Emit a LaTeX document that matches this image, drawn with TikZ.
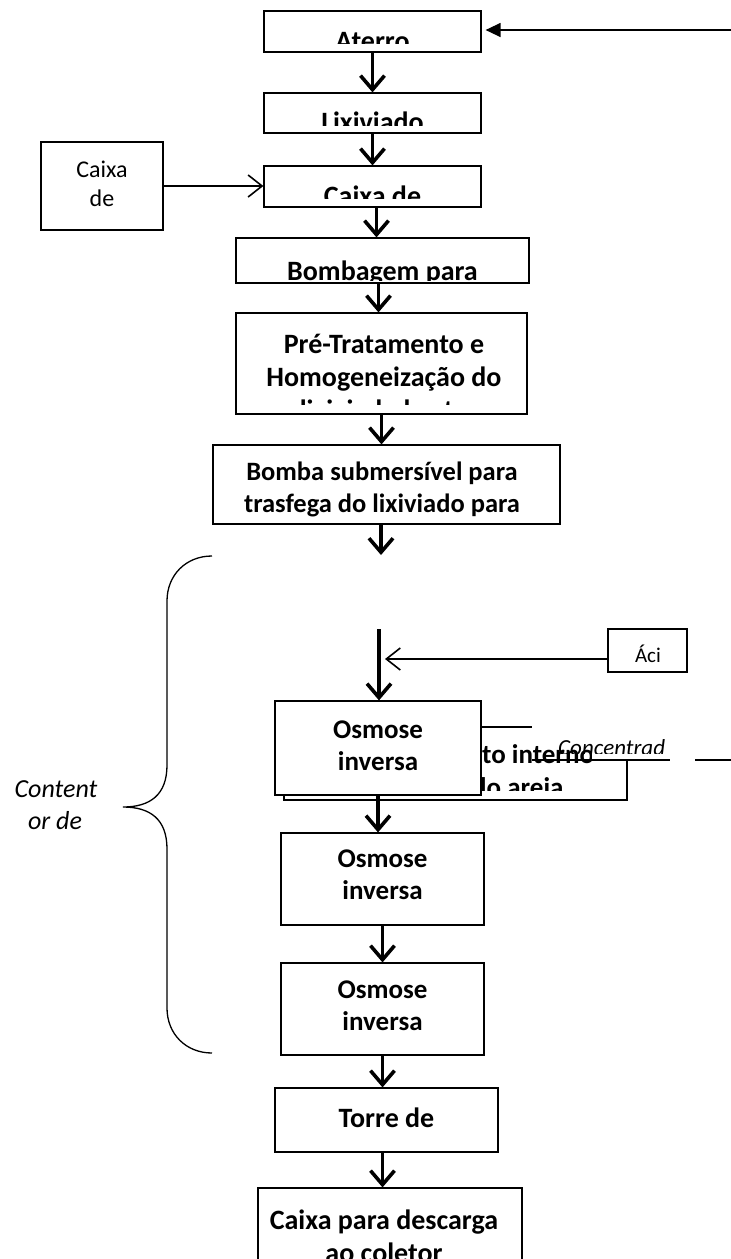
\documentclass[tikz,border=0pt]{standalone}
\usepackage{fontspec}
\setmainfont{Carlito}
\usetikzlibrary{arrows.meta}
\begin{document}
\begin{tikzpicture}[x=1pt,y=-1pt,
  box/.style={draw,line width=1.2pt,fill=white,inner sep=0pt,rectangle},
  bt/.style={font=\fontsize{28}{33}\selectfont\bfseries,inner sep=0pt,anchor=base},
  bts/.style={font=\fontsize{26.5}{32}\selectfont\bfseries,inner sep=0pt,anchor=base},
  bto/.style={font=\fontsize{27}{32}\selectfont\bfseries,inner sep=0pt,anchor=base},
  rt/.style={font=\fontsize{24}{28}\selectfont,inner sep=0pt,anchor=base},
  it/.style={font=\fontsize{26}{32}\selectfont\itshape,inner sep=0pt,anchor=base},
  flow/.style={line width=3.6pt,-{Straight Barb[length=14pt,width=24pt,line width=3.6pt]}},
  feed/.style={line width=1.3pt,-{Straight Barb[length=14pt,width=22pt,line width=1.6pt]}},
  inlet/.style={line width=1.3pt,-{Triangle[length=15pt,width=14pt]}},
  bracestyle/.style={line width=1.3pt},
  thinline/.style={line width=1.3pt}]
\useasboundingbox (0,0) rectangle (731,1259);

% ---- boxes ----
\node[box,minimum width=217pt,minimum height=41pt] (aterro) at (372.5,31.5) {};
\begin{scope}\clip (264,11) rectangle (481,43);
\node[bt] (taterro) at (372.5,50) {Aterro};\end{scope}

\node[box,minimum width=217pt,minimum height=40pt] (lix) at (372.5,113) {};
\begin{scope}\clip (264,93) rectangle (481,125);
\node[bt] (tlix) at (372.5,131) {Lixiviado};\end{scope}

\node[box,minimum width=217pt,minimum height=41pt] (caixa) at (372.5,186.5) {};
\begin{scope}\clip (264,166) rectangle (481,198);
\node[bt] (tcaixa) at (372.5,205) {Caixa de};\end{scope}

\node[box,minimum width=122pt,minimum height=88pt] (side) at (102,186) {};
\begin{scope}\clip (41,142) rectangle (163,222);
\node[rt] (tside1) at (102,177) {Caixa};
\node[rt] (tside2) at (102,206) {de};\end{scope}

\node[box,minimum width=293pt,minimum height=45pt] (bomb) at (382.5,260.5) {};
\begin{scope}\clip (236,238) rectangle (529,280);
\node[bt] (tbomb) at (382.5,280) {Bombagem para};\end{scope}

\node[box,minimum width=291pt,minimum height=101pt] (pre) at (381.5,363.5) {};
\begin{scope}\clip (236,313) rectangle (527,404);
\node[bt] (tpre1) at (384,353) {Pré-Tratamento e};
\node[bt] (tpre2) at (384,386) {Homogeneização do};
\node[bt] (tpre3) at (384,419) {lixiviado bruto};\end{scope}

\node[box,minimum width=347pt,minimum height=79pt] (bsub) at (386.5,484.5) {};
\begin{scope}\clip (213,445) rectangle (560,518);
\node[bts] (tbsub1) at (382,480) {Bomba submersível para};
\node[bts] (tbsub2) at (382,512) {trasfega do lixiviado para};\end{scope}

\node[box,minimum width=79pt,minimum height=43pt] (aci) at (647.5,650.5) {};
\node[font=\fontsize{21}{25}\selectfont,inner sep=0pt,anchor=base] (taci) at (648,662) {Áci};

% box partly hidden behind the first reverse osmosis unit
\node[box,minimum width=343pt,minimum height=73pt] (back) at (455.5,763.5) {};
\begin{scope}\clip (284,727) rectangle (627,790);
\node[bto,anchor=base west] (tback1) at (482,763) {to interno};
\node[bto,anchor=base west] (tback2) at (472,796) {do areia};\end{scope}

\node[box,minimum width=206pt,minimum height=94pt] (osm1) at (378,748) {};
\node[bto] (tosm1a) at (378,738) {Osmose};
\node[bto] (tosm1b) at (378,770) {inversa};

% concentrate label
\fill[white] (532,712) -- (700,712) -- (700,759) -- (592,759) -- (592,744) -- (532,744) -- cycle;
\begin{scope}\clip (532,712) rectangle (700,753);
\node[font=\fontsize{23}{28}\selectfont\itshape,inner sep=0pt,anchor=base west] (tconc) at (558,755) {Concentrad};\end{scope}
\coordinate (l1a) at (532,760); \coordinate (l1b) at (670,760);
\coordinate (l2a) at (695,760); \coordinate (l2b) at (731,760);
\draw[thinline] (l1a) -- (l1b);
\draw[thinline] (l2a) -- (l2b);

\node[box,minimum width=203pt,minimum height=92pt] (osm2) at (382.5,879) {};
\node[bto] (tosm2a) at (382.5,867) {Osmose};
\node[bto] (tosm2b) at (382.5,899) {inversa};

\node[box,minimum width=203pt,minimum height=92pt] (osm3) at (382.5,1009) {};
\node[bto] (tosm3a) at (382.5,998) {Osmose};
\node[bto] (tosm3b) at (382.5,1030) {inversa};

\node[box,minimum width=223pt,minimum height=64pt] (torre) at (386.5,1120) {};
\begin{scope}\clip (275,1088) rectangle (498,1143);
\node[bt] (ttorre) at (386.5,1127) {Torre de};\end{scope}

\node[box,minimum width=264pt,minimum height=112pt] (final) at (390,1244) {};
\node[bt] (tfinal1) at (384,1229) {Caixa para descarga};
\node[bt] (tfinal2) at (384,1262) {ao coletor};

% ---- label of the brace ----
\node[it] (tcont1) at (56,797) {Content};
\node[it] (tcont2) at (55,829) {or de};

% ---- connectors ----
\coordinate (in1) at (731,30);
\draw[inlet,shorten >=4pt] (in1) -- (aterro.east |- in1);
\draw[flow] (aterro.south) -- (aterro.south |- lix.north);
\draw[flow] (lix.south) -- (lix.south |- caixa.north);
\draw[feed] (side.east) -- (side.east -| caixa.west);
\draw[flow] ([xshift=4pt]caixa.south) -- ([xshift=4pt]caixa.south |- bomb.north);
\draw[flow] ([xshift=-4pt]bomb.south) -- ([xshift=-4pt]bomb.south |- pre.north);
\draw[flow] (pre.south) -- (pre.south |- bsub.north);
\coordinate (c1) at (381,555);
\draw[flow] (c1 |- bsub.south) -- (c1);
\coordinate (c2) at (379,629);
\draw[flow] (c2) -- (c2 |- osm1.north);
\coordinate (acit) at (385,659);
\draw[feed] (aci.west |- acit) -- (acit);
\draw[flow] (osm1.south) -- (osm1.south |- osm2.north);
\draw[flow] (osm2.south) -- (osm2.south |- osm3.north);
\draw[flow] (osm3.south) -- (osm3.south |- torre.north);
\draw[flow] ([xshift=-4pt]torre.south) -- ([xshift=-4pt]torre.south |- final.north);

% ---- brace ----
\draw[bracestyle] (212,556) .. controls (186,556) and (167,575) .. (167,601)
  -- (167,765) .. controls (167,795) and (150,807) .. (123,807)
  .. controls (150,807) and (167,819) .. (167,849)
  -- (167,1008) .. controls (167,1034) and (186,1053) .. (212,1053);
\end{tikzpicture}
\end{document}
